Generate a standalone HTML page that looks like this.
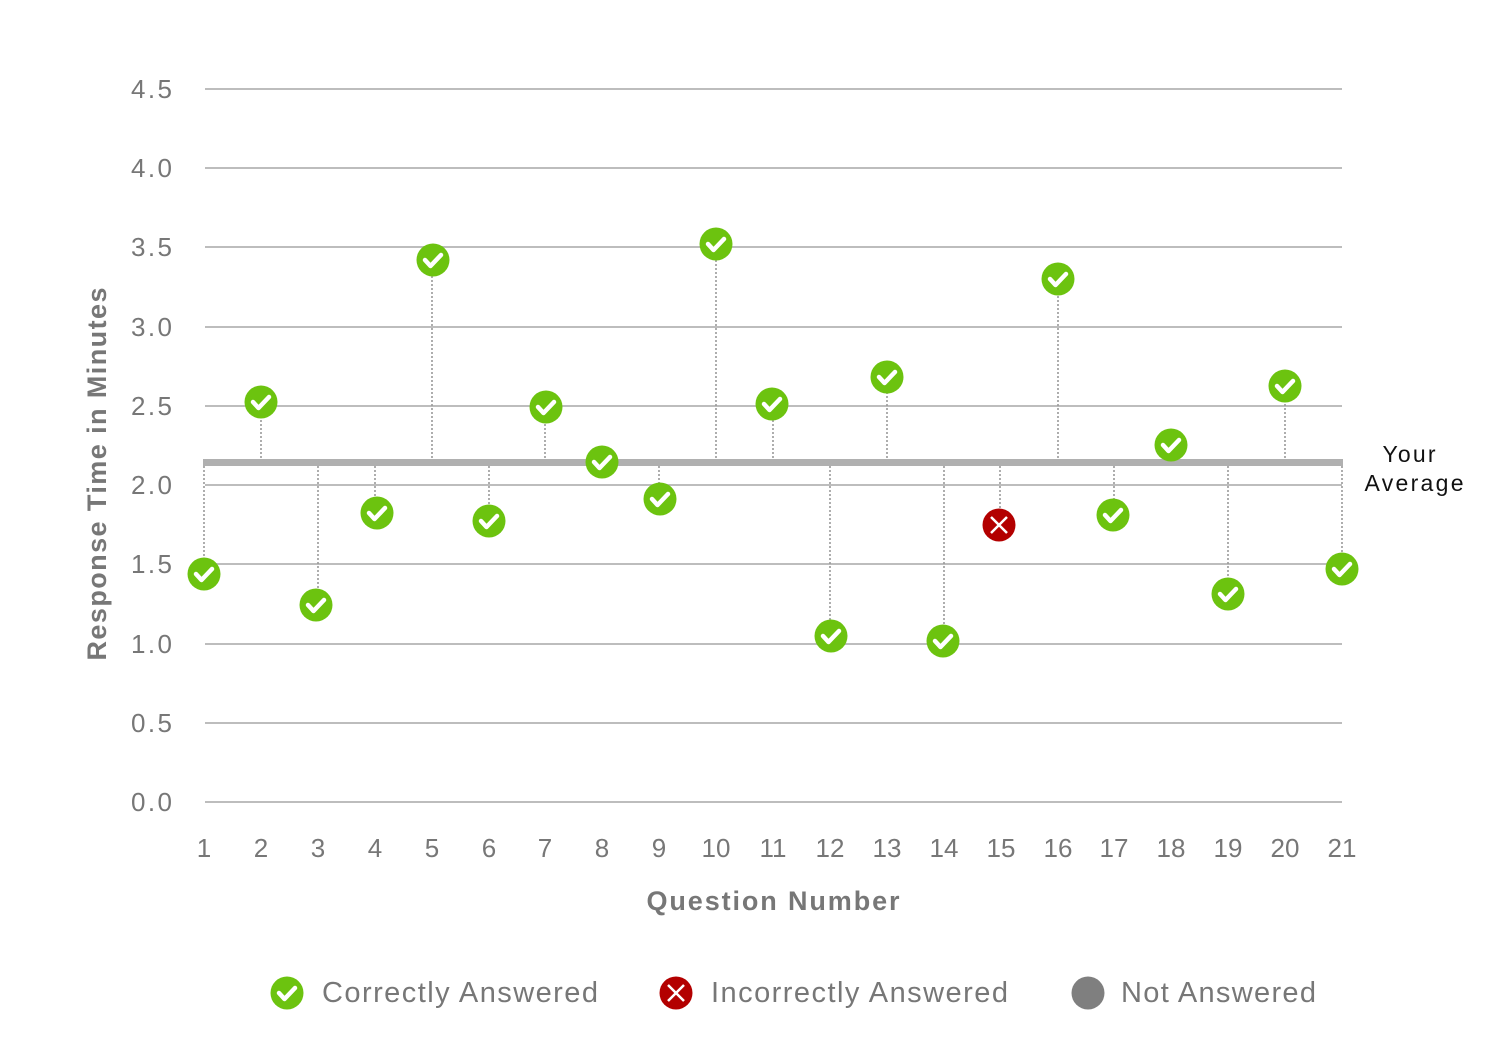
<!DOCTYPE html>
<html><head><meta charset="utf-8"><style>
html,body{margin:0;padding:0;background:#fff;}
svg{display:block;font-family:"Liberation Sans",sans-serif;}
</style></head><body>
<svg width="1512" height="1055" viewBox="0 0 1512 1055" xmlns="http://www.w3.org/2000/svg">
<defs>
<g id="ok"><circle r="16.5" fill="#6cc30f"/><path d="M-8,0 L-2.5,6 L8,-5" fill="none" stroke="#fff" stroke-width="4.5" stroke-linecap="round" stroke-linejoin="round"/></g>
<g id="bad"><circle r="16.5" fill="#b30000"/><path d="M-8,-8 L8,8 M8,-8 L-8,8" stroke="#fff" stroke-width="2.5"/></g>
</defs>
<g stroke="#bdbdbd" stroke-width="2">
<line x1="205" x2="1342" y1="89" y2="89"/><line x1="205" x2="1342" y1="168" y2="168"/>
<line x1="205" x2="1342" y1="247" y2="247"/><line x1="205" x2="1342" y1="327" y2="327"/>
<line x1="205" x2="1342" y1="406" y2="406"/><line x1="205" x2="1342" y1="485" y2="485"/>
<line x1="205" x2="1342" y1="564" y2="564"/><line x1="205" x2="1342" y1="644" y2="644"/>
<line x1="205" x2="1342" y1="723" y2="723"/><line x1="205" x2="1342" y1="802" y2="802"/>
</g>
<g font-size="26" fill="#777" text-anchor="end">
<text x="172" y="98" textLength="41">4.5</text><text x="172" y="177" textLength="41">4.0</text><text x="172" y="256" textLength="41">3.5</text>
<text x="172" y="336" textLength="41">3.0</text><text x="172" y="415" textLength="41">2.5</text><text x="172" y="494" textLength="41">2.0</text>
<text x="172" y="573" textLength="41">1.5</text><text x="172" y="653" textLength="41">1.0</text><text x="172" y="732" textLength="41">0.5</text>
<text x="172" y="811" textLength="41">0.0</text>
</g>
<g font-size="26" fill="#777" text-anchor="middle">
<text x="204" y="857">1</text><text x="261" y="857">2</text><text x="318" y="857">3</text>
<text x="375" y="857">4</text><text x="432" y="857">5</text><text x="489" y="857">6</text>
<text x="545" y="857">7</text><text x="602" y="857">8</text><text x="659" y="857">9</text>
<text x="716" y="857">10</text><text x="773" y="857">11</text><text x="830" y="857">12</text>
<text x="887" y="857">13</text><text x="944" y="857">14</text><text x="1001" y="857">15</text>
<text x="1058" y="857">16</text><text x="1114" y="857">17</text><text x="1171" y="857">18</text>
<text x="1228" y="857">19</text><text x="1285" y="857">20</text><text x="1342" y="857">21</text>
</g>
<text x="773" y="910" font-size="27" font-weight="bold" fill="#777" text-anchor="middle" textLength="253">Question Number</text>
<text transform="translate(106,474) rotate(-90)" font-size="27" font-weight="bold" fill="#777" text-anchor="middle" textLength="373">Response Time in Minutes</text>
<g stroke="#999" stroke-width="1.6" stroke-dasharray="2,2">
<line x1="204" y1="462" x2="204" y2="574"/><line x1="261" y1="462" x2="261" y2="402"/>
<line x1="318" y1="462" x2="318" y2="605"/><line x1="375" y1="462" x2="375" y2="513"/>
<line x1="432" y1="462" x2="432" y2="260"/><line x1="489" y1="462" x2="489" y2="521"/>
<line x1="545" y1="462" x2="545" y2="407"/><line x1="659" y1="462" x2="659" y2="499"/>
<line x1="716" y1="462" x2="716" y2="244"/><line x1="773" y1="462" x2="773" y2="404"/>
<line x1="830" y1="462" x2="830" y2="636"/><line x1="887" y1="462" x2="887" y2="377"/>
<line x1="944" y1="462" x2="944" y2="641"/><line x1="1000" y1="462" x2="1000" y2="525"/>
<line x1="1058" y1="462" x2="1058" y2="279"/><line x1="1114" y1="462" x2="1114" y2="515"/>
<line x1="1171" y1="462" x2="1171" y2="445"/><line x1="1228" y1="462" x2="1228" y2="594"/>
<line x1="1285" y1="462" x2="1285" y2="386"/><line x1="1342" y1="462" x2="1342" y2="569"/>
</g>
<rect x="203" y="459" width="1140" height="7" fill="#b0b0b0"/>
<text x="1409" y="462" font-size="23" fill="#111" text-anchor="middle" textLength="53">Your</text>
<text x="1414" y="491" font-size="23" fill="#111" text-anchor="middle" textLength="99">Average</text>
<use href="#ok" x="204" y="574"/><use href="#ok" x="261" y="402"/><use href="#ok" x="316" y="605"/>
<use href="#ok" x="377" y="513"/><use href="#ok" x="433" y="260"/><use href="#ok" x="489" y="521"/>
<use href="#ok" x="546" y="407"/><use href="#ok" x="602" y="462"/><use href="#ok" x="660" y="499"/>
<use href="#ok" x="716" y="244"/><use href="#ok" x="772" y="404"/><use href="#ok" x="831" y="636"/>
<use href="#ok" x="887" y="377"/><use href="#ok" x="943" y="641"/><use href="#bad" x="999" y="525"/>
<use href="#ok" x="1058" y="279"/><use href="#ok" x="1113" y="515"/><use href="#ok" x="1171" y="445"/>
<use href="#ok" x="1228" y="594"/><use href="#ok" x="1285" y="386"/><use href="#ok" x="1342" y="569"/>
<use href="#ok" x="287" y="993"/>
<use href="#bad" x="676" y="993"/>
<circle cx="1088" cy="993" r="16.5" fill="#7f7f7f"/>
<g font-size="29" fill="#777">
<text x="322" y="1002" textLength="276">Correctly Answered</text>
<text x="711" y="1002" textLength="297">Incorrectly Answered</text>
<text x="1121" y="1002" textLength="195">Not Answered</text>
</g>
</svg>
</body></html>
